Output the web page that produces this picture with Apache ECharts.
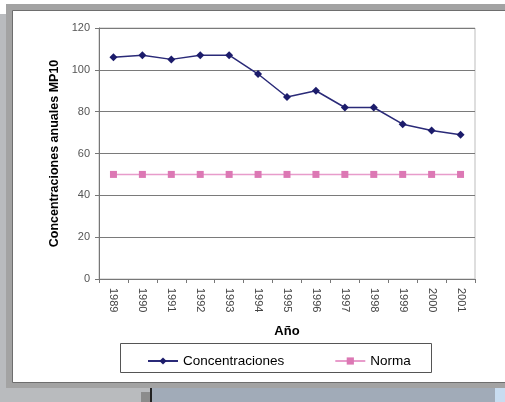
<!DOCTYPE html>
<html><head><meta charset="utf-8">
<script src="https://cdn.jsdelivr.net/npm/echarts@6/dist/echarts.min.js"></script>
<style>html,body{margin:0;padding:0;background:#fff}#c{width:505px;height:402px}</style>
</head><body><div id="c"></div>
<script>
const years = ['1989','1990','1991','1992','1993','1994','1995','1996','1997','1998','1999','2000','2001'];
const concentraciones = [106, 107, 105, 107, 107, 98, 87, 90, 82, 82, 74, 71, 69];
const norma = [50, 50, 50, 50, 50, 50, 50, 50, 50, 50, 50, 50, 50];
const yTicks = [0, 20, 40, 60, 80, 100, 120];

const chart = echarts.init(document.getElementById('c'), null, {renderer: 'canvas'});
const font = 'Liberation Sans, Arial, sans-serif';
chart.setOption({
  animation: false,
  backgroundColor: '#ffffff',
  graphic: [
    {type: 'rect', z: -10, shape: {x: 0, y: 14, width: 12, height: 388}, style: {fill: '#b9bbbe'}},
    {type: 'rect', z: -10, shape: {x: 6, y: 4, width: 499, height: 384}, style: {fill: '#a3a3a3'}},
    {type: 'rect', z: -10, shape: {x: 0, y: 388, width: 505, height: 14}, style: {fill: '#b9bbbe'}},
    {type: 'rect', z: -10, shape: {x: 150, y: 388, width: 345, height: 14}, style: {fill: '#a1abb8'}},
    {type: 'rect', z: -10, shape: {x: 495, y: 388, width: 10, height: 14}, style: {fill: '#c8dcf0'}},
    {type: 'rect', z: -10, shape: {x: 141, y: 392, width: 9, height: 10}, style: {fill: '#8c8c8c'}},
    {type: 'rect', z: -10, shape: {x: 150, y: 388, width: 2, height: 14}, style: {fill: '#222'}},
    {type: 'rect', z: -9, shape: {x: 12.5, y: 10.5, width: 500, height: 372}, style: {fill: '#ffffff', stroke: '#6e6e6e', lineWidth: 1}},
    {type: 'rect', z: -8, shape: {x: 120.5, y: 343.5, width: 311, height: 29}, style: {fill: '#ffffff', stroke: '#555', lineWidth: 1}}
  ],
  legend: {
    left: 142, top: 349, itemWidth: 30, itemHeight: 9, itemGap: 50,
    textStyle: {fontFamily: font, fontSize: 13.5, color: '#000'},
    data: ['Concentraciones', 'Norma']
  },
  grid: {left: 99, right: 30, top: 28, bottom: 123, show: true, borderColor: '#bdbdbd', borderWidth: 1, backgroundColor: 'transparent'},
  xAxis: {
    type: 'category', data: years, boundaryGap: true,
    name: 'Año', nameLocation: 'middle', nameGap: 46,
    nameTextStyle: {fontFamily: font, fontSize: 13, fontWeight: 'bold', color: '#000'},
    axisLine: {lineStyle: {color: '#777', width: 1}},
    axisTick: {show: true, inside: false, length: 4, alignWithLabel: false, lineStyle: {color: '#777'}},
    axisLabel: {rotate: -90, margin: 9, fontFamily: font, fontSize: 11, color: '#444'}
  },
  yAxis: {
    type: 'value', min: 0, max: 120, interval: 20,
    name: 'Concentraciones anuales MP10', nameLocation: 'middle', nameGap: 37,
    nameTextStyle: {fontFamily: font, fontSize: 12.5, fontWeight: 'bold', color: '#000'},
    axisLine: {show: true, lineStyle: {color: '#777'}},
    axisTick: {show: true, length: 4, lineStyle: {color: '#777'}},
    axisLabel: {margin: 9, fontFamily: font, fontSize: 11, color: '#555',
      formatter: v => yTicks.includes(v) ? String(v) : ''},
    splitLine: {show: true, lineStyle: {color: '#7a7a7a', width: 1}}
  },
  series: [
    {name: 'Concentraciones', type: 'line', data: concentraciones, symbol: 'diamond', symbolSize: 8,
      itemStyle: {color: '#1c1c6b'}, lineStyle: {color: '#2a2a78', width: 1.5}},
    {name: 'Norma', type: 'line', data: norma, symbol: 'rect', symbolSize: 7,
      itemStyle: {color: '#dc78b4'}, lineStyle: {color: '#e89ccb', width: 1.5}}
  ]
});
</script></body></html>
